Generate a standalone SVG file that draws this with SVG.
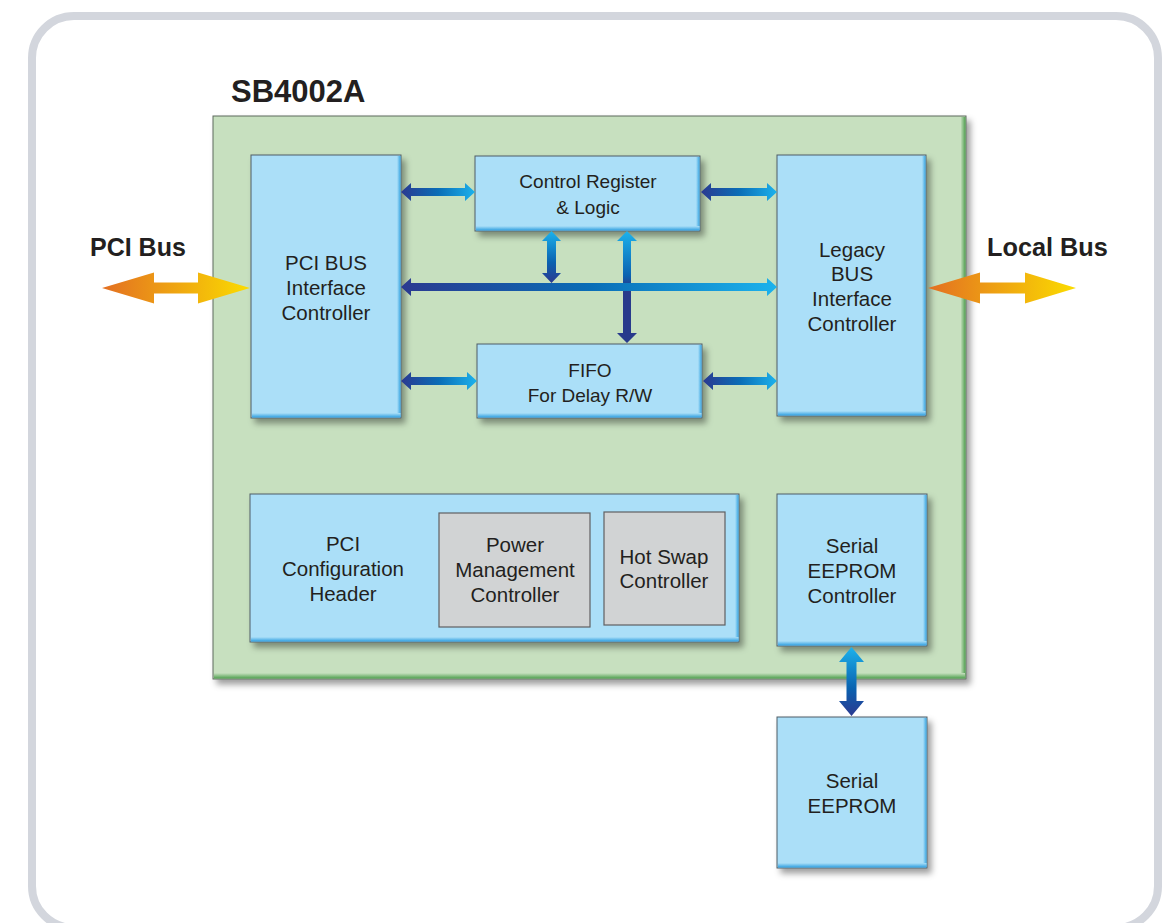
<svg xmlns="http://www.w3.org/2000/svg" width="1164" height="923" viewBox="0 0 1164 923">
<style>
  .t{font-family:"Liberation Sans",Arial,sans-serif;font-size:20.5px;fill:#231f20;text-anchor:middle}
  .ts{font-size:19px}
  .h{font-family:"Liberation Sans",Arial,sans-serif;font-weight:bold;fill:#231f20}
  .blue{fill:#abdff8;stroke:#4f5d66;stroke-width:1}
  .grey{fill:#d1d3d4;stroke:#5f6062;stroke-width:1.2}
</style>
<defs>
  <filter id="sh" x="-10%" y="-10%" width="130%" height="130%">
    <feDropShadow dx="4" dy="5" stdDeviation="3" flood-color="#000" flood-opacity="0.38"/>
  </filter>
  <linearGradient id="bb" x1="0" y1="0" x2="0" y2="1"><stop offset="0" stop-color="#abdff8"/><stop offset="1" stop-color="#2f9fe0"/></linearGradient>
  <linearGradient id="br" x1="0" y1="0" x2="1" y2="0"><stop offset="0" stop-color="#abdff8"/><stop offset="1" stop-color="#3aa6e2"/></linearGradient>
  <linearGradient id="gb" x1="0" y1="0" x2="0" y2="1"><stop offset="0" stop-color="#c7e0bf"/><stop offset="1" stop-color="#4f9f4f"/></linearGradient>
  <linearGradient id="gr" x1="0" y1="0" x2="1" y2="0"><stop offset="0" stop-color="#c7e0bf"/><stop offset="1" stop-color="#4f9f4f"/></linearGradient>
  <linearGradient id="hg" x1="0" y1="0" x2="1" y2="0"><stop offset="0" stop-color="#2b3990"/><stop offset="0.5" stop-color="#0a6db6"/><stop offset="1" stop-color="#1cb2ec"/></linearGradient>
  <linearGradient id="vg" x1="0" y1="0" x2="0" y2="1"><stop offset="0" stop-color="#1cb2ec"/><stop offset="0.6" stop-color="#0a62b0"/><stop offset="1" stop-color="#2b3990"/></linearGradient>
  <linearGradient id="vg2" x1="0" y1="0" x2="0" y2="1"><stop offset="0" stop-color="#1cb2ec"/><stop offset="0.4" stop-color="#0a62b0"/><stop offset="0.5" stop-color="#283a8c"/><stop offset="1" stop-color="#283a8c"/></linearGradient>
  <linearGradient id="og" x1="0" y1="0" x2="1" y2="0"><stop offset="0" stop-color="#e36f22"/><stop offset="1" stop-color="#fbdc00"/></linearGradient>
</defs>

<rect x="32" y="16" width="1126" height="912" rx="42" fill="#fff" stroke="#d3d6dd" stroke-width="8"/>

<text class="h" x="231" y="102" font-size="31">SB4002A</text>
<text class="h" x="90" y="256" font-size="25">PCI Bus</text>
<text class="h" x="987" y="256" font-size="25.3">Local Bus</text>

<g id="chip">
  <rect x="213" y="116" width="753" height="563" fill="#c7e0bf" stroke="#5c6a5c" stroke-width="1" filter="url(#sh)"/>
  <rect x="960.5" y="117" width="5" height="561" fill="url(#gr)"/>
  <rect x="214" y="673" width="751" height="5.5" fill="url(#gb)"/>
</g>

<g id="pci-bus-if">
  <rect class="blue" x="251" y="155" width="150" height="263" filter="url(#sh)"/>
  <rect x="397" y="156" width="3.5" height="261" fill="url(#br)"/>
  <rect x="252" y="413" width="148.5" height="4.5" fill="url(#bb)"/>
  <text class="t" x="326" y="270">PCI BUS</text>
  <text class="t" x="326" y="295">Interface</text>
  <text class="t" x="326" y="320">Controller</text>
</g>

<g id="ctrl-reg">
  <rect class="blue" x="475" y="156" width="225" height="75" filter="url(#sh)"/>
  <rect x="696" y="157" width="3.5" height="73" fill="url(#br)"/>
  <rect x="476" y="226" width="223.5" height="4.5" fill="url(#bb)"/>
  <text class="t ts" x="588" y="188">Control Register</text>
  <text class="t ts" x="588" y="214">&amp; Logic</text>
</g>

<g id="legacy-bus-if">
  <rect class="blue" x="777" y="155" width="149" height="261" filter="url(#sh)"/>
  <rect x="922" y="156" width="3.5" height="259" fill="url(#br)"/>
  <rect x="778" y="411" width="147.5" height="4.5" fill="url(#bb)"/>
  <text class="t" x="852" y="257">Legacy</text>
  <text class="t" x="852" y="281">BUS</text>
  <text class="t" x="852" y="306">Interface</text>
  <text class="t" x="852" y="331">Controller</text>
</g>

<g id="fifo">
  <rect class="blue" x="477" y="344" width="225" height="74" filter="url(#sh)"/>
  <rect x="698" y="345" width="3.5" height="72" fill="url(#br)"/>
  <rect x="478" y="413" width="223.5" height="4.5" fill="url(#bb)"/>
  <text class="t ts" x="590" y="377">FIFO</text>
  <text class="t ts" x="590" y="402">For Delay R/W</text>
</g>

<g id="pci-config">
  <rect class="blue" x="250" y="494" width="489" height="148" filter="url(#sh)"/>
  <rect x="735" y="495" width="3.5" height="146" fill="url(#br)"/>
  <rect x="251" y="637" width="487.5" height="4.5" fill="url(#bb)"/>
  <text class="t" x="343" y="551">PCI</text>
  <text class="t" x="343" y="576">Configuration</text>
  <text class="t" x="343" y="601">Header</text>
</g>

<g id="power-mgmt">
  <rect class="grey" x="439" y="513" width="151" height="114"/>
  <text class="t" x="515" y="552">Power</text>
  <text class="t" x="515" y="577">Management</text>
  <text class="t" x="515" y="602">Controller</text>
</g>

<g id="hot-swap">
  <rect class="grey" x="604" y="512" width="121" height="113"/>
  <text class="t" x="664" y="564">Hot Swap</text>
  <text class="t" x="664" y="588">Controller</text>
</g>

<g id="eeprom-ctrl">
  <rect class="blue" x="777" y="494" width="150" height="152" filter="url(#sh)"/>
  <rect x="923" y="495" width="3.5" height="150" fill="url(#br)"/>
  <rect x="778" y="641" width="148.5" height="4.5" fill="url(#bb)"/>
  <text class="t" x="852" y="553">Serial</text>
  <text class="t" x="852" y="578">EEPROM</text>
  <text class="t" x="852" y="603">Controller</text>
</g>

<g id="eeprom">
  <rect class="blue" x="777" y="717" width="150" height="151" filter="url(#sh)"/>
  <rect x="923" y="718" width="3.5" height="149" fill="url(#br)"/>
  <rect x="778" y="863" width="148.5" height="4.5" fill="url(#bb)"/>
  <text class="t" x="852" y="788">Serial</text>
  <text class="t" x="852" y="813">EEPROM</text>
</g>

<g id="connectors">
  <polygon fill="url(#og)" points="102,288 154,272.5 154,282.5 198,282.5 198,272.5 250,288 198,303.5 198,293.5 154,293.5 154,303.5"/>
  <polygon fill="url(#og)" points="928,288 980,272.5 980,282.5 1025,282.5 1025,272.5 1076,288 1025,303.5 1025,293.5 980,293.5 980,303.5"/>
  <polygon fill="url(#hg)" points="401,192 411,183 411,188 465,188 465,183 475,192 465,201 465,196 411,196 411,201"/>
  <polygon fill="url(#hg)" points="701,192 711,183 711,188 767,188 767,183 777,192 767,201 767,196 711,196 711,201"/>
  <polygon fill="url(#hg)" points="401,381 411,372 411,377 467,377 467,372 477,381 467,390 467,385 411,385 411,390"/>
  <polygon fill="url(#hg)" points="703,381 713,372 713,377 767,377 767,372 777,381 767,390 767,385 713,385 713,390"/>
  <polygon fill="url(#vg)" points="551.5,231 561,241 556,241 556,273 561,273 551.5,283 542,273 547,273 547,241 542,241"/>
  <polygon fill="url(#vg2)" points="627,231 637,241 631,241 631,333 637,333 627,343 617,333 623,333 623,241 617,241"/>
  <polygon fill="url(#hg)" points="401,287 411,278 411,283 767,283 767,278 777,287 767,296 767,291 411,291 411,296"/>
  <polygon fill="url(#vg)" points="851.5,647 864,662 856.5,662 856.5,701 864,701 851.5,716 839,701 846.5,701 846.5,662 839,662"/>
</g>
</svg>
